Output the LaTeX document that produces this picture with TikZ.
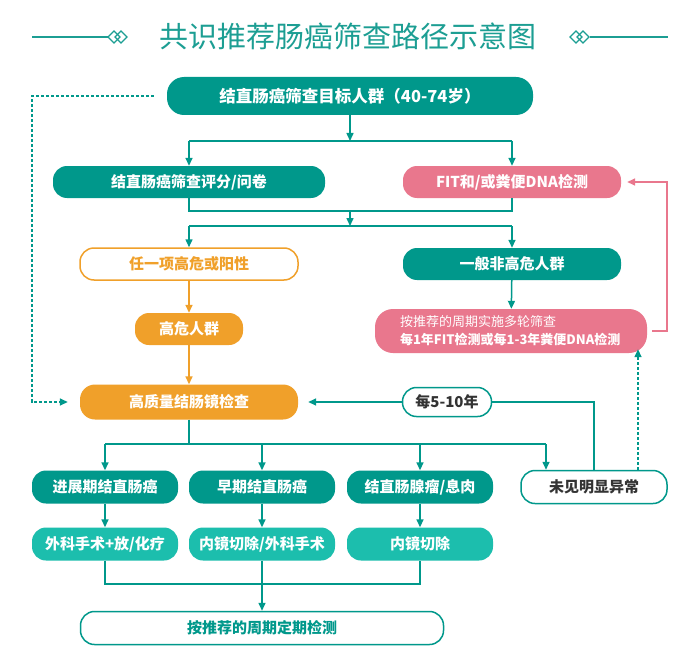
\documentclass[tikz,border=0pt]{standalone}
\usepackage{fontspec}
\setmainfont{Noto Sans CJK SC}
\usepackage{tikz}
\usetikzlibrary{arrows.meta,calc}
\definecolor{cpteal}{HTML}{00988B}
\definecolor{cplight}{HTML}{1CBEAD}
\definecolor{cppink}{HTML}{E9778D}
\definecolor{cporange}{HTML}{F0A02A}
\definecolor{cptitle}{HTML}{1C9E93}
\definecolor{cpdark}{HTML}{333333}

\begin{document}
\begin{tikzpicture}[x=1pt,y=-1pt,font=\bfseries\fontsize{15}{18}\selectfont,
  pill/.style={rounded corners=14pt,minimum height=32pt,inner sep=0pt,text=white},
  tealpill/.style={pill,fill=cpteal},
  lightpill/.style={pill,fill=cplight},
  pinkpill/.style={pill,fill=cppink},
  orangepill/.style={pill,fill=cporange},
  openpill/.style={pill,fill=white,draw=#1,line width=1.5pt},
  link/.style={cpteal,line width=1.5pt},
  flow/.style={link,-{Triangle[length=8pt,width=7pt]}},
  oflow/.style={flow,cporange},
  pflow/.style={flow,cppink},
  dflow/.style={flow,dash pattern=on 3pt off 2pt}]
  \useasboundingbox[fill=white] (0,0) rectangle (692,655);

  \node[text=cptitle,font=\fontsize{29}{32}\selectfont] (title) at (348,36) {共识推荐肠癌筛查路径示意图};
  \draw[cptitle,line width=1.3pt] (32,37) -- (108,37) (590,37) -- (668,37);
  \foreach \cx in {114,121,576,583}
    \draw[cptitle,line width=1.3pt] (\cx-6,37) -- (\cx,31) -- (\cx+6,37) -- (\cx,43) -- cycle;

  \node[tealpill,minimum width=366pt,minimum height=38pt,rounded corners=17pt,font=\bfseries\fontsize{16.5}{19}\selectfont] (A) at (350,96) {结直肠癌筛查目标人群（40-74岁）};
  \node[tealpill,minimum width=272pt] (B1) at (189,182) {结直肠癌筛查评分/问卷};
  \node[pinkpill,minimum width=218pt] (B2) at (512,182) {FIT和/或粪便DNA检测};
  \node[openpill=cporange,text=cporange,minimum width=218pt] (C1) at (189,264) {任一项高危或阳性};
  \node[tealpill,minimum width=218pt] (C2) at (512,264) {一般非高危人群};
  \node[orangepill,minimum width=108pt] (D1) at (189,329) {高危人群};
  \node[pinkpill,minimum width=272pt,minimum height=44pt,rounded corners=18pt,align=left,text width=222pt,inner xsep=25pt,font=\fontsize{13}{18}\selectfont] (D2) at (511,331)
    {\mdseries 按推荐的周期实施多轮筛查\\\bfseries 每1年FIT检测或每1-3年粪便DNA检测};
  \node[orangepill,minimum width=218pt,minimum height=35pt,rounded corners=15pt] (E) at (189,402) {高质量结肠镜检查};
  \node[openpill=cpteal,text=cpdark,minimum width=89pt,minimum height=29pt] (K) at (447,402) {每5-10年};

  \foreach \n/\x/\t in {F1/105/{进展期结直肠癌},F2/262/{早期结直肠癌},F3/420/{结直肠腺瘤/息肉}}
    \node[tealpill,minimum width=146pt,minimum height=33pt] (\n) at (\x,487) {\t};
  \node[openpill=cpteal,text=cpdark,minimum width=146pt,minimum height=33pt] (F4) at (594,487) {未见明显异常};
  \foreach \n/\x/\t in {G1/105/{外科手术+放/化疗},G2/262/{内镜切除/外科手术},G3/420/{内镜切除}}
    \node[lightpill,minimum width=146pt,minimum height=33pt] (\n) at (\x,544) {\t};
  \node[openpill=cpteal,text=cpteal,minimum width=363pt,minimum height=33pt] (H) at (262,628) {按推荐的周期定期检测};

  \coordinate (j1) at (350,141);
  \coordinate (j2) at (350,211);
  \coordinate (j3) at (350,226);
  \coordinate (j4) at (189,444);
  \coordinate (j5) at (262,584);
  \coordinate (f4in) at (546,444);
  \coordinate (dl) at (32,250);
  \coordinate (dr) at (638,0);
  \coordinate (fb) at (667,257);

  \draw[flow] (A.south) -- (j1);
  \draw[link] (B1.north |- j1) -- (B2.north |- j1);
  \draw[flow] (B1.north |- j1) -- (B1.north);
  \draw[flow] (B2.north |- j1) -- (B2.north);
  \draw[link] (B1.south) |- (j2) -| (B2.south);
  \draw[flow] (j2) -- (j3);
  \draw[link] (C1.north |- j3) -- (C2.north |- j3);
  \draw[flow] (C1.north |- j3) -- (C1.north);
  \draw[flow] (C2.north |- j3) -- (C2.north);
  \draw[oflow] (C1) -- (D1);
  \draw[oflow] (D1) -- (E);
  \draw[flow] (C2) -- (D2);
  \draw[pflow] ([xshift=5pt]D2.east) -| (fb) |- ([xshift=6pt]B2.east);
  \draw[dflow] ([xshift=-13pt]A.west) -| (dl) |- ([xshift=-12pt]E.west);
  \draw[dflow] (F4.north -| dr) -- ([yshift=4pt]D2.south -| dr);
  \draw[link] (F4.north) |- (K.east);
  \draw[flow] (K.west) -- ([xshift=10pt]E.east);

  \draw[link] (E.south) -- (j4);
  \draw[link] (F1.north |- j4) -- (f4in);
  \foreach \n in {F1,F2,F3}
    \draw[flow] (\n.north |- j4) -- (\n.north);
  \draw[flow] (f4in) -- (f4in |- F4.north);
  \foreach \n/\m in {F1/G1,F2/G2,F3/G3}
    \draw[flow] (\n) -- (\m);
  \draw[link] (G1.south) |- (j5) -| (G3.south);
  \draw[flow] (G2.south) -- (H.north);
\end{tikzpicture}
\end{document}
